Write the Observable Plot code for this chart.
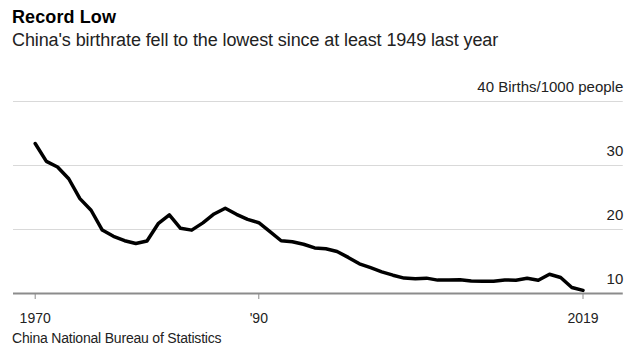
<!DOCTYPE html>
<html>
<head>
<meta charset="utf-8">
<script src="https://cdn.jsdelivr.net/npm/d3@7"></script>
<script src="https://cdn.jsdelivr.net/npm/@observablehq/plot@0.6"></script>
<style>
  html, body { margin: 0; padding: 0; background: #fff; }
  body { width: 638px; height: 353px; position: relative; overflow: hidden; font-family: "Liberation Sans", Arial, sans-serif; }
  #title { position: absolute; left: 12px; top: 7px; font-size: 18px; font-weight: bold; color: #000; letter-spacing: 0.1px; }
  #subtitle { position: absolute; left: 12px; top: 30px; font-size: 18px; color: #222; letter-spacing: -0.1px; }
  #chart { position: absolute; left: 0; top: 56px; }
  #caption { position: absolute; left: 12px; top: 330px; font-size: 14px; color: #222; letter-spacing: -0.2px; }
</style>
</head>
<body>
<div id="title">Record Low</div>
<div id="subtitle">China's birthrate fell to the lowest since at least 1949 last year</div>
<div id="chart"></div>
<div id="caption">China National Bureau of Statistics</div>
<script>
const years = [1970,1971,1972,1973,1974,1975,1976,1977,1978,1979,
  1980,1981,1982,1983,1984,1985,1986,1987,1988,1989,
  1990,1991,1992,1993,1994,1995,1996,1997,1998,1999,
  2000,2001,2002,2003,2004,2005,2006,2007,2008,2009,
  2010,2011,2012,2013,2014,2015,2016,2017,2018,2019];
const birthRates = [33.43,30.65,29.77,27.93,24.82,23.01,19.91,18.93,18.25,17.82,
  18.21,20.91,22.28,20.19,19.90,21.04,22.43,23.33,22.37,21.58,
  21.06,19.68,18.24,18.09,17.70,17.12,16.98,16.57,15.64,14.64,
  14.03,13.38,12.86,12.41,12.29,12.40,12.09,12.10,12.14,11.95,
  11.90,11.93,12.10,12.08,12.37,12.07,13.00,12.50,10.94,10.48];
const yTicks = [10, 20, 30, 40];
const yTickLabels = ["10", "20", "30", "40 Births/1000 people"];
const xTicks = [1970, 1990, 2019];
const xTickLabels = ["1970", "'90", "2019"];

const data = years.map((y, i) => ({year: y, rate: birthRates[i]}));
const yLabelData = yTicks.map((v, i) => ({v, label: yTickLabels[i]}));

const chart = Plot.plot({
  width: 638,
  height: 280,
  marginLeft: 13,
  marginRight: 13,
  marginTop: 45,
  marginBottom: 43,
  style: {fontFamily: "'Liberation Sans', Arial, sans-serif", background: "transparent"},
  x: {domain: [1968.06, 2022.8], axis: null},
  y: {domain: [10, 40], axis: null},
  marks: [
    Plot.ruleY([20, 30, 40], {stroke: "#d9d9d9", strokeWidth: 1, x1: 1968.06, x2: 2022.6}),
    Plot.text(yLabelData, {x: 2022.6, y: "v", text: "label", textAnchor: "end", dy: -14, fontSize: 15, fill: "#222"}),
    Plot.line(data, {x: "year", y: "rate", stroke: "#000", strokeWidth: 3.5, strokeLinejoin: "round"}),
    Plot.ruleY([10], {stroke: "#8c8c8c", strokeWidth: 2, x1: 1968.06, x2: 2022.6}),
    Plot.axisX({
      ticks: xTicks,
      tickFormat: d => xTickLabels[xTicks.indexOf(d)],
      tickSize: 6,
      tickPadding: 14,
      fontSize: 14,
      stroke: "#8c8c8c",
      fill: "#222",
      label: null
    })
  ]
});
document.getElementById("chart").appendChild(chart);
</script>
</body>
</html>
